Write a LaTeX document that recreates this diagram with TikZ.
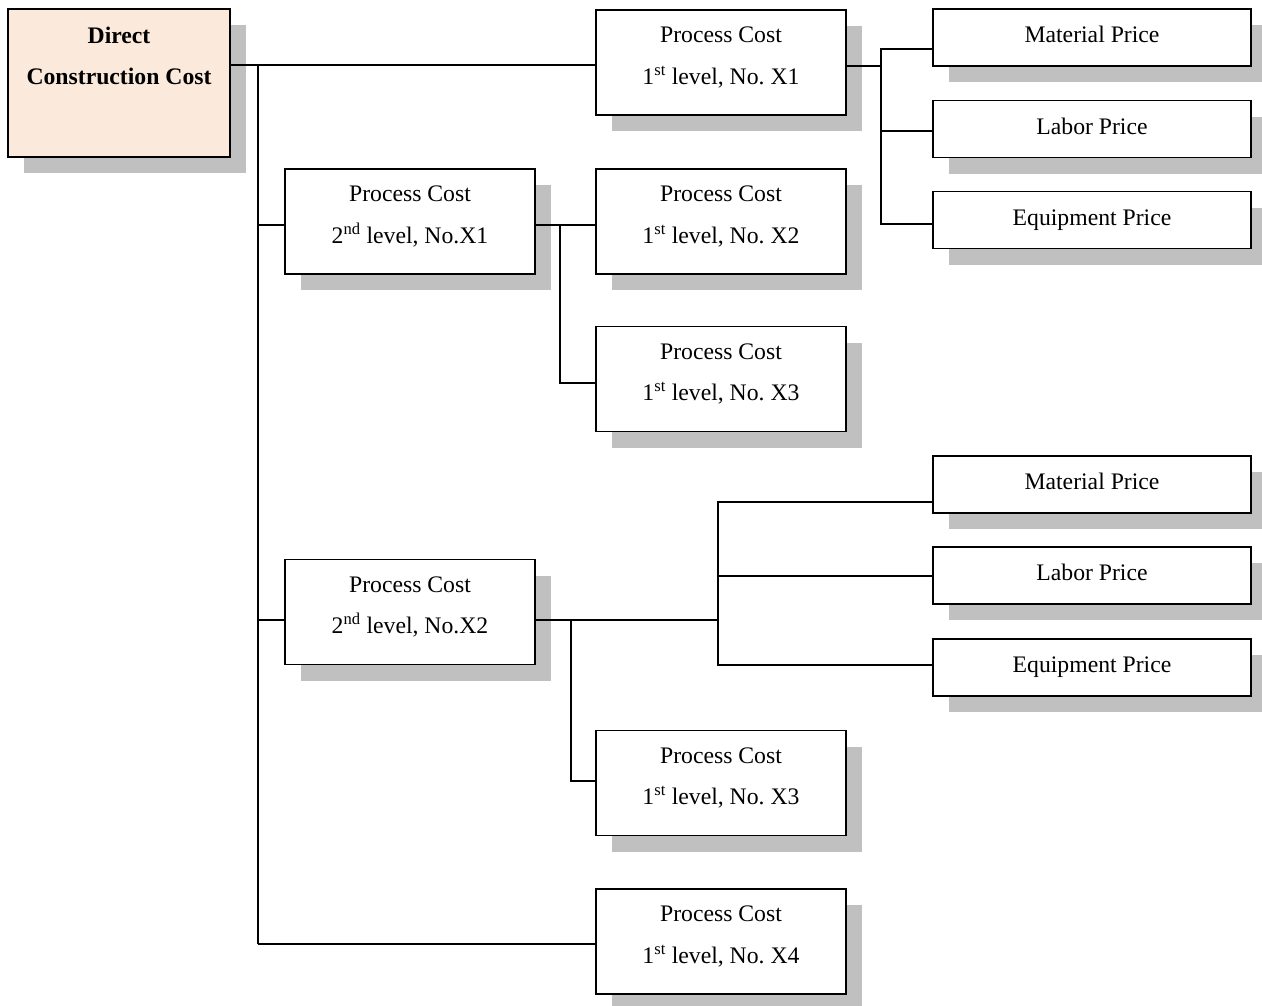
\documentclass[tikz,border=0pt]{standalone}
\usepackage{fontspec}
\setmainfont{Liberation Serif}
\usetikzlibrary{shadows}
\definecolor{shade}{HTML}{C0C0C0}
\definecolor{rootfill}{HTML}{FBE9DB}
\frenchspacing

\begin{document}
\begin{tikzpicture}[x=1pt,y=-1pt,
  boxbase/.style={draw=black, line width=1.4pt, inner sep=0pt,
    general shadow={fill=shade, shadow xshift=16pt, shadow yshift=-16pt}},
  procbox/.style={boxbase, fill=white, minimum width=250pt, minimum height=105pt},
  pricebox/.style={boxbase, fill=white, minimum width=318pt, minimum height=57pt},
  rootbox/.style={boxbase, fill=rootfill, minimum width=222pt, minimum height=148pt},
  lbl/.style={font=\fontsize{23.7}{41.5}\selectfont, align=center, inner sep=0pt},
  two/.style={lbl, yshift=5pt},
  one/.style={lbl, text height=0.7em, text depth=0.25em, yshift=-3pt},
  wire/.style={line width=1.3pt},
  heavy/.style={line width=2.4pt},
  trunk/.style={line width=2pt},
]
\useasboundingbox (0,0) rectangle (1262,1005);

% root box
\node[rootbox] (root) at (119,83) {};
\node[lbl, font=\fontsize{23.7}{41.5}\selectfont\bfseries, yshift=27pt] (roottxt) at (root.center)
  {Direct\\Construction Cost};

% process cost boxes
\node[procbox] (p1x1) at (721,62.5) {};
\node[two] (p1x1t) at (p1x1.center) {Process Cost\\1\textsuperscript{st} level, No. X1};
\node[procbox] (p2x1) at (410,221.5) {};
\node[two] (p2x1t) at (p2x1.center) {Process Cost\\2\textsuperscript{nd} level, No.X1};
\node[procbox] (p1x2) at (721,221.5) {};
\node[two] (p1x2t) at (p1x2.center) {Process Cost\\1\textsuperscript{st} level, No. X2};
\node[procbox] (p1x3a) at (721,379) {};
\node[two] (p1x3at) at (p1x3a.center) {Process Cost\\1\textsuperscript{st} level, No. X3};
\node[procbox] (p2x2) at (410,612) {};
\node[two] (p2x2t) at (p2x2.center) {Process Cost\\2\textsuperscript{nd} level, No.X2};
\node[procbox] (p1x3b) at (721,783) {};
\node[two] (p1x3bt) at (p1x3b.center) {Process Cost\\1\textsuperscript{st} level, No. X3};
\node[procbox] (p1x4) at (721,941.5) {};
\node[two] (p1x4t) at (p1x4.center) {Process Cost\\1\textsuperscript{st} level, No. X4};

% price boxes
\node[pricebox] (mat1) at (1092,37.5) {};
\node[one] (mat1t) at (mat1.center) {Material Price};
\node[pricebox] (lab1) at (1092,129) {};
\node[one] (lab1t) at (lab1.center) {Labor Price};
\node[pricebox] (equ1) at (1092,220) {};
\node[one] (equ1t) at (equ1.center) {Equipment Price};
\node[pricebox] (mat2) at (1092,484.5) {};
\node[one] (mat2t) at (mat2.center) {Material Price};
\node[pricebox] (lab2) at (1092,575.5) {};
\node[one] (lab2t) at (lab2.center) {Labor Price};
\node[pricebox] (equ2) at (1092,667.5) {};
\node[one] (equ2t) at (equ2.center) {Equipment Price};

% junction points
\coordinate (t0) at (258,65);
\coordinate (t1) at (258,944);
\coordinate (ta) at (258,225);
\coordinate (tc) at (258,620);
\coordinate (b0) at (560,225);
\coordinate (b1) at (560,383);
\coordinate (c1) at (718,620);
\coordinate (c2) at (718,502);
\coordinate (c3) at (718,665);
\coordinate (c4) at (718,576);
\coordinate (d0) at (571,620);
\coordinate (d1) at (571,781);
\coordinate (e0) at (881,66);
\coordinate (e1) at (881,49);
\coordinate (e2) at (881,224);
\coordinate (e3) at (881,131);

% main trunk
\draw[heavy] (root.east |- t0) -- (t0);
\draw[wire] (t0) -- (p1x1.west |- t0);
\draw[trunk] (t0) -- (t1);
\draw[wire] (t1) -- (p1x4.west |- t1);
\draw[wire] (ta) -- (p2x1.west |- ta);
\draw[wire] (tc) -- (p2x2.west |- tc);

% second level X1 branch
\draw[wire] (p2x1.east |- ta) -- (p1x2.west |- ta);
\draw[wire] (b0) -- (b1) -- (p1x3a.west |- b1);

% second level X2 branch
\draw[heavy] (p2x2.east |- tc) -- (c1);
\draw[wire] (mat2.west |- c2) -- (c2) -- (c3) -- (equ2.west |- c3);
\draw[wire] (c4) -- (lab2.west |- c4);
\draw[wire] (d0) -- (d1) -- (p1x3b.west |- d1);

% first level X1 prices
\draw[heavy] (p1x1.east |- e0) -- (e0);
\draw[wire] (mat1.west |- e1) -- (e1) -- (e2) -- (equ1.west |- e2);
\draw[wire] (e3) -- (lab1.west |- e3);
\end{tikzpicture}
\end{document}
